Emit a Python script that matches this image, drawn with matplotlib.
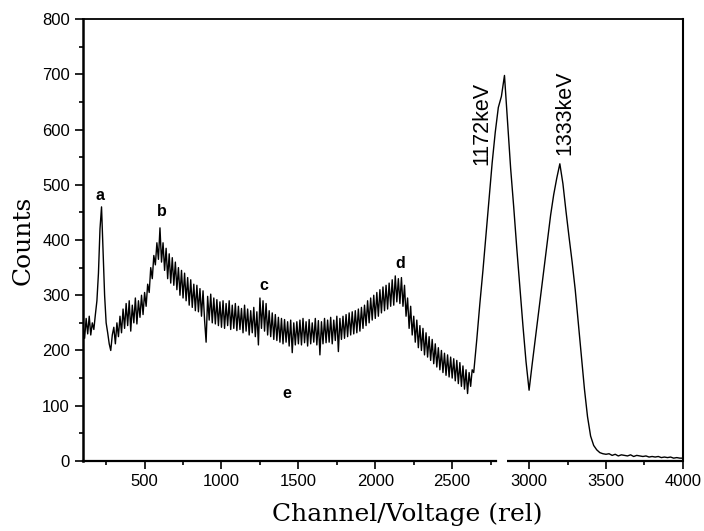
import matplotlib
matplotlib.use("Agg")
import matplotlib.pyplot as plt
import numpy as np

# noisy continuum read every 10 channels, the smooth peaks every 20
channels = np.concatenate([np.arange(100, 2640, 10), np.arange(2640, 4001, 20)])
counts = [
    # 100-290
    245, 222, 258, 230, 262, 228, 250, 238, 265, 290,
    340, 420, 460, 380, 300, 250, 232, 212, 200, 228,
    # 300-490
    242, 212, 250, 225, 262, 232, 275, 240, 285, 245,
    290, 235, 282, 250, 295, 248, 290, 260, 300, 265,
    # 500-690
    305, 280, 320, 305, 350, 330, 372, 355, 395, 365,
    422, 360, 395, 345, 385, 330, 375, 322, 368, 318,
    # 700-890
    360, 310, 350, 300, 345, 295, 340, 290, 332, 282,
    328, 278, 320, 272, 318, 270, 312, 262, 308, 255,
    # 900-1090
    215, 298, 255, 302, 250, 295, 248, 292, 245, 288,
    242, 290, 240, 285, 245, 290, 238, 282, 240, 285,
    # 1100-1290
    236, 280, 238, 276, 232, 282, 235, 275, 228, 272,
    232, 278, 225, 270, 210, 295, 240, 290, 235, 285,
    # 1300-1490
    228, 272, 225, 268, 220, 265, 218, 260, 215, 258,
    212, 256, 215, 252, 208, 255, 196, 250, 210, 252,
    # 1500-1690
    212, 255, 210, 258, 214, 252, 208, 256, 212, 250,
    215, 258, 210, 254, 192, 252, 212, 258, 214, 255,
    # 1700-1890
    215, 260, 212, 255, 218, 262, 198, 258, 220, 262,
    222, 265, 225, 268, 228, 270, 230, 272, 232, 275,
    # 1900-2090
    235, 278, 240, 282, 245, 290, 250, 295, 255, 300,
    258, 305, 262, 310, 268, 315, 272, 318, 275, 322,
    # 2100-2290
    280, 328, 282, 335, 288, 330, 285, 332, 280, 318,
    262, 295, 240, 280, 228, 262, 215, 255, 205, 245,
    # 2300-2490
    200, 240, 192, 232, 188, 225, 182, 220, 176, 212,
    170, 205, 165, 200, 160, 195, 155, 192, 152, 188,
    # 2500-2630
    150, 185, 145, 182, 140, 178, 135, 172, 130, 165,
    122, 160, 135, 165,
    # 2640-2680
    160, 220, 285,
    # 2700-2880
    345, 410, 475, 540, 595, 640, 660, 698, 615, 530,
    # 2900-3080
    460, 385, 315, 245, 180, 128, 175, 220, 265, 310,
    # 3100-3280
    355, 400, 445, 482, 512, 538, 502, 452, 405, 360,
    # 3300-3480
    310, 250, 190, 130, 80, 45, 28, 20, 15, 13,
    # 3500-3680
    12, 13, 10, 12, 9, 11, 10, 9, 11, 8,
    # 3700-3880
    10, 9, 8, 9, 7, 8, 7, 8, 6, 7,
    # 3900-4000
    6, 7, 5, 6, 5, 5,
]

peak_names = ["a", "b", "c", "d", "e"]
peak_x = [213, 610, 1275, 2162, 1425]
peak_y = [481, 451, 318, 357, 122]

line_names = ["1172keV", "1333keV"]
line_x = [2690, 3234]
line_y = [611, 630]

axis_break = (2785, 2855)

fig = plt.figure(figsize=(7.04, 5.31), dpi=100)
ax = fig.add_axes([0.118, 0.132, 0.852, 0.832])

ax.plot(channels, counts, color="black", lw=1.0)

ax.set_xlim(100, 4000)
ax.set_ylim(0, 800)
ax.set_xticks(np.arange(500, 4001, 500))
ax.set_xticks(np.arange(250, 4000, 500), minor=True)
ax.set_yticks(np.arange(0, 801, 100))
ax.set_yticks(np.arange(50, 800, 100), minor=True)
ax.tick_params(which="both", direction="out", width=1.2, top=False, right=False)
ax.tick_params(which="major", length=5.5, pad=4, labelsize=12)
ax.tick_params(which="minor", length=3)
for lab in ax.get_xticklabels() + ax.get_yticklabels():
    lab.set_fontfamily("Liberation Sans")

ax.spines["left"].set_linewidth(1.8)
ax.spines["bottom"].set_linewidth(1.6)
ax.spines["top"].set_linewidth(1.3)
ax.spines["right"].set_linewidth(1.5)
# bottom axis drawn broken around the 1172 keV peak
ax.spines["bottom"].set_bounds(100, axis_break[0])
ax.plot([axis_break[1], 4000], [0, 0], transform=ax.get_xaxis_transform(),
        color="black", lw=1.6, clip_on=False, solid_capstyle="butt")

ax.set_ylabel("Counts", fontfamily="DejaVu Serif", fontsize=18)
ax.yaxis.set_label_coords(-0.08, 0.5)
ax.set_xlabel("Channel/Voltage (rel)", fontfamily="DejaVu Serif", fontsize=18)
ax.xaxis.set_label_coords(0.54, -0.095)

for name, x, y in zip(peak_names, peak_x, peak_y):
    ax.text(x, y, name, ha="center", va="center", fontsize=11.5,
            fontweight="bold", fontfamily="Liberation Sans")
for name, x, y in zip(line_names, line_x, line_y):
    ax.text(x, y, name, ha="center", va="center", rotation=90,
            fontsize=15.5, fontfamily="Liberation Sans")

fig.savefig("out.png", dpi=100)
